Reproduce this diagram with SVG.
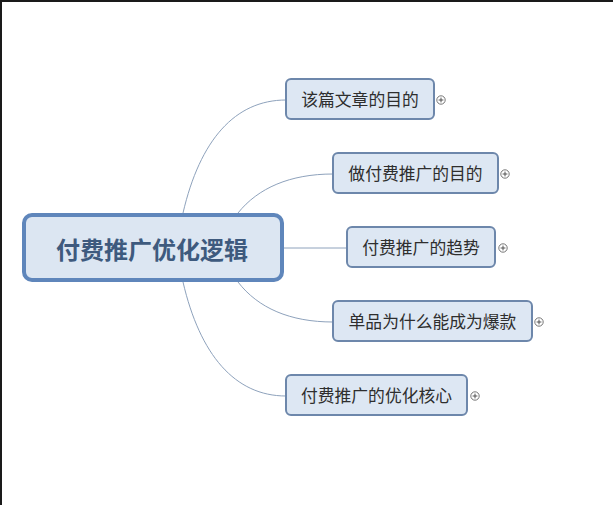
<svg xmlns="http://www.w3.org/2000/svg" width="613" height="505" viewBox="0 0 613 505">
<style>
.n rect{fill:#dde7f3;stroke:#6d87ab;stroke-width:2}
.n text{font-family:"Noto Sans CJK SC","Noto Sans",sans-serif;font-size:16.8px;fill:#2e2e2e;text-anchor:middle;dominant-baseline:central}
.c{fill:none;stroke:#8ea2bc;stroke-width:1}
.p circle{fill:#fff;stroke:#666;stroke-width:0.9}
.p path{stroke:#444;stroke-width:0.9}
</style>
<rect width="613" height="505" fill="#fff"/>
<path d="M1,505 V1 H613" fill="none" stroke="#1a1a1a" stroke-width="2"/>
<g id="connectors">
<path class="c" d="M183,213 C200,140 235,100 286,100"/>
<path class="c" d="M238,213 C258,188 290,174 333,174"/>
<path class="c" d="M284,248 H347"/>
<path class="c" d="M238,282 C258,308 290,322 333,322"/>
<path class="c" d="M183,282 C200,355 235,396 286,396"/>
</g>
<g id="root">
<rect x="24" y="215" width="258" height="65" rx="8" fill="#dce6f2" stroke="#5f86bb" stroke-width="4"/>
<text x="152" y="248" font-family="'Noto Sans CJK SC','Noto Sans',sans-serif" font-size="24" font-weight="bold" fill="#3e5a7e" text-anchor="middle" dominant-baseline="central">付费推广优化逻辑</text>
</g>
<g id="n1" class="n">
<rect x="286" y="79" width="148" height="40" rx="5"/>
<text x="360" y="99">该篇文章的目的</text>
<g class="p"><circle cx="441" cy="100" r="4.2"/><path d="M438.6,100H443.4M441,97.6V102.4"/></g>
</g>
<g id="n2" class="n">
<rect x="333" y="153" width="165" height="40" rx="5"/>
<text x="415.5" y="173">做付费推广的目的</text>
<g class="p"><circle cx="505" cy="174" r="4.2"/><path d="M502.6,174H507.4M505,171.6V176.4"/></g>
</g>
<g id="n3" class="n">
<rect x="347" y="227" width="148" height="40" rx="5"/>
<text x="421" y="247">付费推广的趋势</text>
<g class="p"><circle cx="503" cy="248" r="4.2"/><path d="M500.6,248H505.4M503,245.6V250.4"/></g>
</g>
<g id="n4" class="n">
<rect x="333" y="301" width="199" height="40" rx="5"/>
<text x="432.5" y="321">单品为什么能成为爆款</text>
<g class="p"><circle cx="539" cy="322" r="4.2"/><path d="M536.6,322H541.4M539,319.6V324.4"/></g>
</g>
<g id="n5" class="n">
<rect x="286" y="375" width="181" height="40" rx="5"/>
<text x="376.5" y="395">付费推广的优化核心</text>
<g class="p"><circle cx="475" cy="396" r="4.2"/><path d="M472.6,396H477.4M475,393.6V398.4"/></g>
</g>
</svg>
